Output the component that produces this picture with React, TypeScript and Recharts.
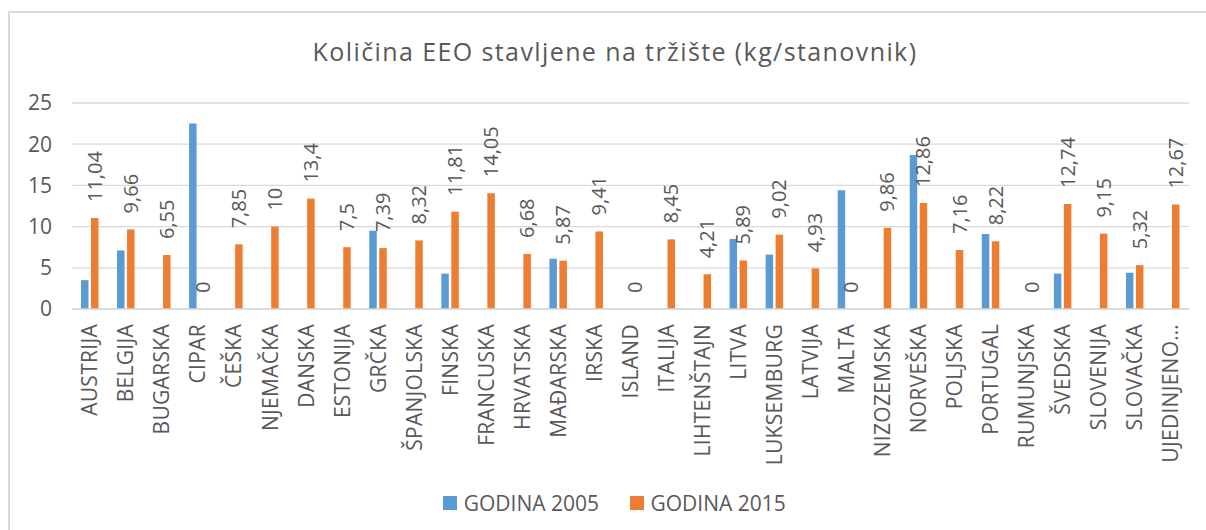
import React from "react";
import { BarChart, Bar, XAxis, YAxis, CartesianGrid, Legend, LabelList } from "recharts";

const categories = [
  "AUSTRIJA", "BELGIJA", "BUGARSKA", "CIPAR", "ČEŠKA", "NJEMAČKA", "DANSKA", "ESTONIJA",
  "GRČKA", "ŠPANJOLSKA", "FINSKA", "FRANCUSKA", "HRVATSKA", "MAĐARSKA", "IRSKA", "ISLAND",
  "ITALIJA", "LIHTENŠTAJN", "LITVA", "LUKSEMBURG", "LATVIJA", "MALTA", "NIZOZEMSKA",
  "NORVEŠKA", "POLJSKA", "PORTUGAL", "RUMUNJSKA", "ŠVEDSKA", "SLOVENIJA", "SLOVAČKA", "UJEDINJENO…",
];

const values2005 = [
  3.5, 7.1, 0, 22.5, 0, 0, 0, 0, 9.5, 0, 4.3, 0, 0, 6.1, 0, 0, 0, 0, 8.5, 6.6, 0, 14.4, 0,
  18.7, 0, 9.1, 0, 4.3, 0, 4.4, 0,
];

const values2015 = [
  11.04, 9.66, 6.55, 0, 7.85, 10, 13.4, 7.5, 7.39, 8.32, 11.81, 14.05, 6.68, 5.87, 9.41, 0,
  8.45, 4.21, 5.89, 9.02, 4.93, 0, 9.86, 12.86, 7.16, 8.22, 0, 12.74, 9.15, 5.32, 12.67,
];

const yTicks = [0, 5, 10, 15, 20, 25];
const seriesNames = ["GODINA 2005", "GODINA 2015"];
const titleText = "Količina EEO stavljene na tržište (kg/stanovnik)";

const data = categories.map((c, i) => ({ name: c, y2005: values2005[i], y2015: values2015[i] }));

const FONT = "'Open Sans', sans-serif";
const TEXT = "#595959";

const XTick = (props: any) => {
  const { x, y, payload } = props;
  return (
    <text
      x={x}
      y={y + 15}
      transform={`rotate(-90, ${x}, ${y + 15})`}
      textAnchor="end"
      dy="0.35em"
      fontSize={21}
      letterSpacing={0.3}
      fill={TEXT}
      fontFamily={FONT}
    >
      {payload.value}
    </text>
  );
};

const ValueLabel = (props: any) => {
  const { x, y, width, height, value } = props;
  const cx = x + width / 2;
  const top = height < 0 ? y + height : y;
  const cy = top - 16;
  return (
    <text
      x={cx}
      y={cy}
      transform={`rotate(-90, ${cx}, ${cy})`}
      textAnchor="start"
      dy="0.35em"
      fontSize={20}
      fill={TEXT}
      fontFamily={FONT}
    >
      {String(value).replace(".", ",")}
    </text>
  );
};

const LegendContent = (props: any) => {
  const { payload } = props;
  return (
    <div
      style={{
        display: "flex",
        justifyContent: "center",
        alignItems: "center",
        height: 24,
        paddingLeft: 30,
        fontFamily: FONT,
        fontSize: 21,
        color: TEXT,
      }}
    >
      {(payload || []).map((p: any, i: number) => (
        <div key={i} style={{ display: "flex", alignItems: "center", marginRight: i === 0 ? 31 : 0 }}>
          <div style={{ width: 13.5, height: 13.5, background: p.color, marginRight: 7 }} />
          <span>{p.value}</span>
        </div>
      ))}
    </div>
  );
};

export default function App() {
  return (
    <div style={{ position: "absolute", left: 0, top: 0, width: 1206, height: 530, background: "#fff", overflow: "hidden" }}>
      <div
        style={{
          position: "absolute",
          left: 8,
          top: 11,
          width: 1300,
          height: 600,
          borderTop: "2px solid #d9d9d9",
          borderLeft: "2px solid #d9d9d9",
          boxSizing: "border-box",
        }}
      />
      <div
        style={{
          position: "absolute",
          left: 15,
          top: 34,
          width: 1200,
          textAlign: "center",
          fontFamily: FONT,
          fontSize: 25,
          letterSpacing: "1.4px",
          lineHeight: "34px",
          color: TEXT,
        }}
      >
        {titleText}
      </div>
      <div style={{ position: "absolute", left: 0, top: 0 }}>
        <BarChart
          width={1206}
          height={530}
          data={data}
          margin={{ top: 103, right: 17, bottom: 15, left: 10 }}
          barGap={2.5}
          barSize={7.5}
        >
          <CartesianGrid vertical={false} stroke="#d9d9d9" strokeWidth={1.3} />
          <XAxis
            dataKey="name"
            interval={0}
            height={182}
            tickLine={false}
            tickSize={0}
            tickMargin={0}
            axisLine={{ stroke: "#d9d9d9", strokeWidth: 1.3 }}
            tick={<XTick />}
          />
          <YAxis
            width={62}
            domain={[0, 25]}
            ticks={yTicks}
            axisLine={false}
            tickLine={false}
            tickSize={0}
            tickMargin={20}
            tick={{ fontSize: 21, fill: TEXT, fontFamily: FONT }}
          />
          <Legend verticalAlign="bottom" content={<LegendContent />} />
          <Bar dataKey="y2005" name={seriesNames[0]} fill="#5B9BD5" isAnimationActive={false} />
          <Bar dataKey="y2015" name={seriesNames[1]} fill="#ED7D31" minPointSize={0.01} isAnimationActive={false}>
            <LabelList dataKey="y2015" content={<ValueLabel />} />
          </Bar>
        </BarChart>
      </div>
    </div>
  );
}
